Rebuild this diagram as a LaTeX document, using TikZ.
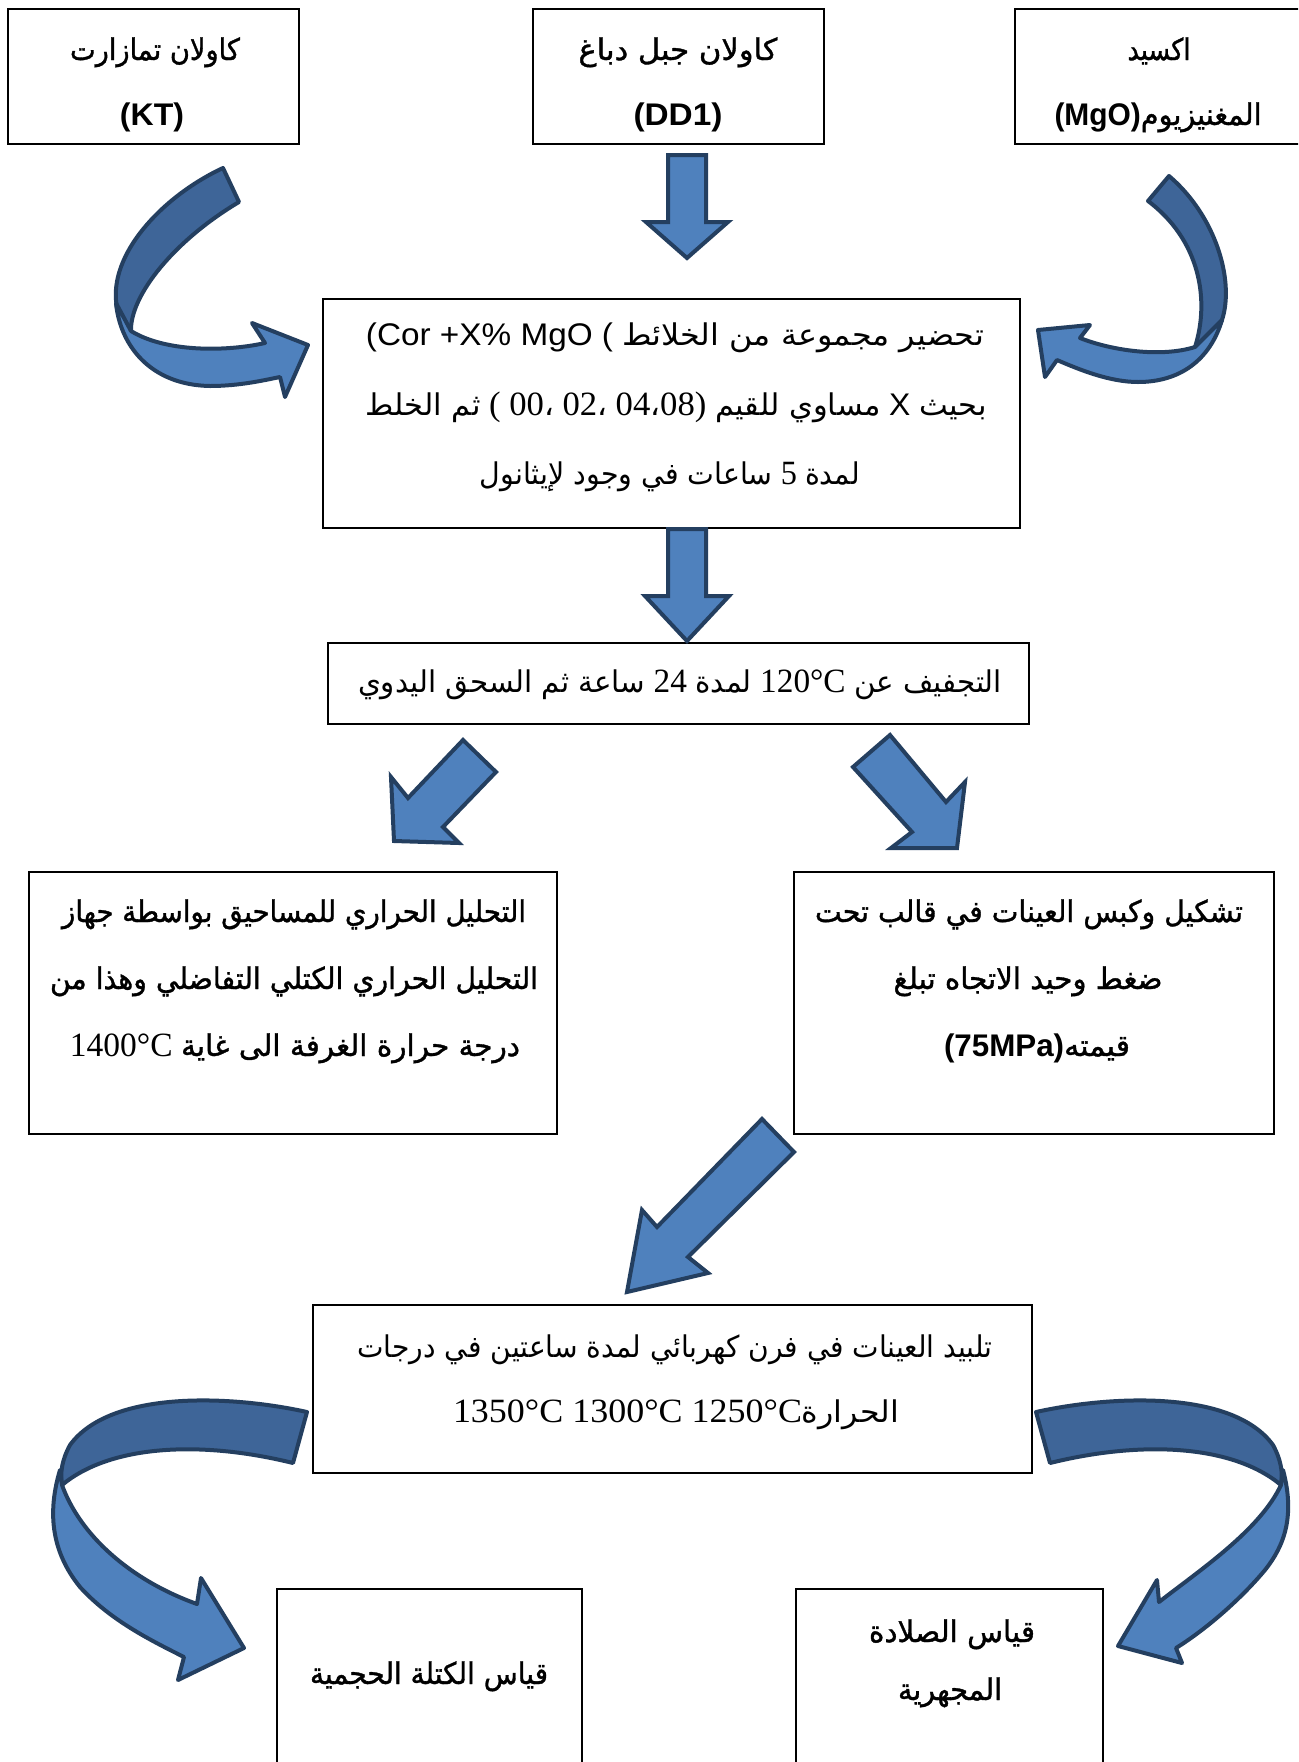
\documentclass[tikz,border=0pt]{standalone}
\usepackage{fontspec}
\usepackage{graphicx}
\TeXXeTstate=1
\setmainfont{Liberation Serif}
\newfontfamily\arialf[Scale=0.92]{Liberation Sans}
\newfontfamily\arabicfont[Script=Arabic,Scale=0.88]{DejaVu Sans}
\newfontfamily\arabicbold[Script=Arabic,Scale=0.88,FakeBold=1.2]{DejaVu Sans}
\newcommand{\AR}[1]{{\arabicfont\beginR #1\endR}}
\newcommand{\ARB}[1]{{\arabicbold\beginR #1\endR}}
\newcommand{\fitto}[2]{\resizebox{#1}{\height}{#2}}
\definecolor{arrLight}{HTML}{4F81BD}
\definecolor{arrDark}{HTML}{3E6598}
\definecolor{arrLine}{HTML}{243F60}
\tikzset{
  bx/.style={draw=black, line width=1.1pt, inner sep=0pt, anchor=north west},
  txt/.style={inner sep=0pt, anchor=base, font=\fontsize{17}{20}\selectfont},
  blk/.style={fill=arrLight, draw=arrLine, line width=2pt, line join=miter},
  blkd/.style={fill=arrDark, draw=arrLine, line width=2pt, line join=round},
  blkl/.style={fill=arrLight, draw=arrLine, line width=2pt, line join=round},
}
\begin{document}
\begin{tikzpicture}[x=0.5pt,y=-0.5pt]
\useasboundingbox (0,0) rectangle (1298,1762);
\clip (0,0) rectangle (1298,1762);
\fill[white] (0,0) rectangle (1298,1762);

% boxes
\node[bx, minimum width=145.5pt, minimum height=67.5pt] (kt) at (7,8) {};
\node[bx, minimum width=145.5pt, minimum height=67.5pt] (dd) at (532,8) {};
\node[bx, minimum width=148pt, minimum height=67.5pt] (mgo) at (1014,8) {};
\node[bx, minimum width=348.5pt, minimum height=114.5pt] (mix) at (322,298) {};
\node[bx, minimum width=350.5pt, minimum height=40.5pt] (dry) at (327,642) {};
\node[bx, minimum width=264pt, minimum height=131pt] (thermal) at (28,871) {};
\node[bx, minimum width=240pt, minimum height=131pt] (shape) at (793,871) {};
\node[bx, minimum width=359.5pt, minimum height=84pt] (sinter) at (312,1304) {};
\node[bx, minimum width=152.5pt, minimum height=100pt] (bulk) at (276,1588) {};
\node[bx, minimum width=153.5pt, minimum height=100pt] (hard) at (795,1588) {};

% texts
\node[txt] (t1) at (155,60) {\fitto{85pt}{\ARB{كاولان تمازارت}}};
\node[txt] (t2) at (152,125) {\fitto{32pt}{\arialf\bfseries (KT)}};
\node[txt] (t3) at (678,60) {\fitto{99.5pt}{\ARB{كاولان جبل دباغ}}};
\node[txt] (t4) at (678,125) {\fitto{44.5pt}{\arialf\bfseries (DD1)}};
\node[txt] (t5) at (1159,60) {\fitto{31.5pt}{\ARB{اكسيد}}};
\node[txt] (t6) at (1158,125) {\fitto{103.5pt}{{\arialf\bfseries (MgO)}\ARB{المغنيزيوم}}};

\node[txt] (t7) at (675,345) {\fitto{309pt}{{\arialf (Cor +X\% MgO (}\ \AR{تحضير مجموعة من الخلائط}}};
\node[txt] (t8) at (676,415) {\fitto{310.5pt}{\AR{ثم الخلط}\ (\ 00\AR{،} 02\AR{،} 04\AR{،}08)\ \AR{مساوي للقيم}\ {\arialf X}\ \AR{بحيث}}};
\node[txt] (t9) at (670,484) {\fitto{190pt}{\AR{ساعات في وجود لإيثانول}\ 5\ \AR{لمدة}}};

\node[txt] (t10) at (680,692) {\fitto{322pt}{\AR{ساعة ثم السحق اليدوي}\ 24\ \AR{لمدة}\ 120°C\ \AR{التجفيف عن}}};

\node[txt] (t11) at (294,922) {\fitto{232pt}{\ARB{التحليل الحراري للمساحيق بواسطة جهاز}}};
\node[txt] (t12) at (294,989) {\fitto{244pt}{\ARB{التحليل الحراري الكتلي التفاضلي وهذا من}}};
\node[txt] (t13) at (295,1056) {\fitto{225pt}{1400°C\ \ARB{درجة حرارة الغرفة الى غاية}}};

\node[txt] (t14) at (1029,922) {\fitto{214pt}{\ARB{تشكيل وكبس العينات في قالب تحت}}};
\node[txt] (t15) at (1028,989) {\fitto{134.5pt}{\ARB{ضغط وحيد الاتجاه تبلغ}}};
\node[txt] (t16) at (1037,1056) {\fitto{93pt}{{\arialf\bfseries (75MPa)}\ARB{قيمته}}};

\node[txt] (t17) at (675,1357) {\fitto{317.5pt}{\AR{تلبيد العينات في فرن كهربائي لمدة ساعتين في درجات}}};
\node[txt] (t18) at (676,1422) {\fitto{223pt}{1350°C 1300°C 1250°C\AR{الحرارة}}};

\node[txt] (t19) at (429,1684) {\fitto{119pt}{\ARB{قياس الكتلة الحجمية}}};
\node[txt] (t20) at (952,1642) {\fitto{83pt}{\ARB{قياس الصلادة}}};
\node[txt] (t21) at (950,1700) {\fitto{52pt}{\ARB{المجهرية}}};

% straight block arrows
\draw[blk] (668,155) -- (706,155) -- (706,222) -- (728,222) -- (687,258) -- (646,222) -- (668,222) -- cycle;
\draw[blk] (668,529) -- (706,529) -- (706,596) -- (729,596) -- (687,641) -- (645,596) -- (668,596) -- cycle;
\draw[blk] (463,740) -- (496,772) -- (443,827) -- (459,843) -- (394,841) -- (391,777) -- (408,798) -- cycle;
\draw[blk] (890,735) -- (853,767) -- (912,832) -- (891,848) -- (957,848) -- (965,782) -- (946,802) -- cycle;
\draw[blk] (762,1119) -- (794,1152) -- (688,1257) -- (708,1273) -- (627,1292) -- (642,1210) -- (657,1227) -- cycle;

% curved arrow top-left
\draw[blkd] (223,168) .. controls (165,195) and (112,250) .. (116,300) .. controls (117,315) and (122,325) .. (131,331) .. controls (130,295) and (175,240) .. (239,202) -- cycle;
\draw[blkl] (116,303) .. controls (120,345) and (150,385) .. (210,386) .. controls (240,386) and (265,380) .. (280,377) -- (285,397) -- (308,345) -- (252,323) -- (265,343) .. controls (225,352) and (165,352) .. (131,331) -- cycle;

% curved arrow top-right
\draw[blkd] (1169,176) .. controls (1215,215) and (1235,280) .. (1222,320) .. controls (1215,335) and (1205,343) .. (1195,347) .. controls (1210,300) and (1200,240) .. (1148,201) -- cycle;
\draw[blkl] (1222,320) .. controls (1210,360) and (1180,382) .. (1138,382) .. controls (1110,382) and (1080,370) .. (1057,360) -- (1045,377) -- (1038,330) -- (1090,325) -- (1080,338) .. controls (1110,350) and (1160,358) .. (1195,347) -- cycle;

% curved arrow bottom-left
\draw[blkd] (307,1412) .. controls (230,1395) and (110,1390) .. (70,1445) .. controls (62,1460) and (60,1472) .. (62,1485) .. controls (110,1445) and (200,1440) .. (293,1463) -- cycle;
\draw[blkl] (60,1470) .. controls (48,1510) and (50,1550) .. (80,1587) .. controls (110,1620) and (150,1640) .. (184,1657) -- (178,1680) -- (244,1648) -- (201,1578) -- (197,1604) .. controls (130,1580) and (80,1535) .. (62,1485) -- cycle;

% curved arrow bottom-right
\draw[blkd] (1036,1412) .. controls (1113,1395) and (1233,1390) .. (1273,1445) .. controls (1281,1460) and (1283,1472) .. (1281,1485) .. controls (1233,1445) and (1143,1440) .. (1050,1463) -- cycle;
\draw[blkl] (1283,1470) .. controls (1295,1515) and (1285,1545) .. (1265,1570) .. controls (1240,1600) and (1205,1630) .. (1176,1648) -- (1182,1663) -- (1118,1646) -- (1157,1580) -- (1159,1602) .. controls (1200,1570) and (1260,1530) .. (1281,1485) -- cycle;
\end{tikzpicture}
\end{document}
